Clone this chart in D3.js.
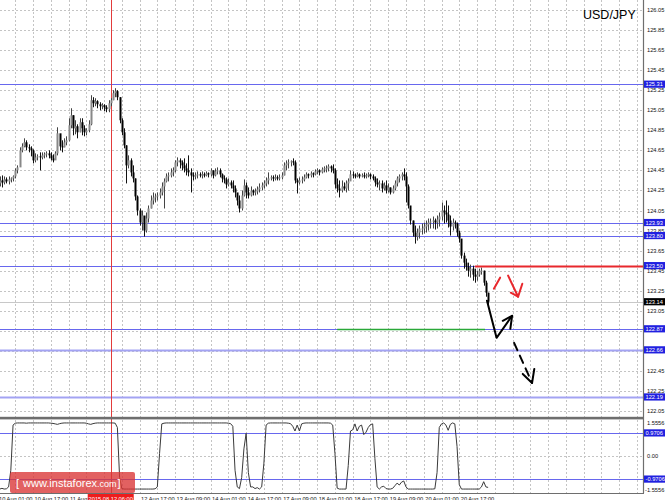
<!DOCTYPE html>
<html><head><meta charset="utf-8">
<script src="https://cdn.jsdelivr.net/npm/d3@7"></script>
<style>body{margin:0;background:#fff;}svg{display:block;font-family:"Liberation Sans",Arial,sans-serif;}</style>
</head><body><svg id="c" width="665" height="500"></svg>
<script>
// ---- data (hourly USD/JPY bars, index 0 = 10 Aug 01:00) ----
const highs=[124.37,124.39,124.40,124.39,124.38,124.39,124.38,124.40,124.47,124.50,
124.68,124.72,124.77,124.75,124.71,124.69,124.66,124.62,124.61,124.63,
124.63,124.63,124.64,124.65,124.63,124.61,124.64,124.88,124.80,124.75,
124.77,124.79,124.97,125.07,125.00,124.95,124.91,124.97,124.97,124.90,
124.87,124.95,125.20,125.18,125.17,125.15,125.13,125.12,125.11,125.10,
125.15,125.17,125.25,125.27,125.25,125.18,124.97,124.87,124.70,124.60,
124.57,124.50,124.37,124.20,124.07,124.05,123.97,124.03,124.10,124.20,
124.23,124.22,124.23,124.27,124.33,124.37,124.42,124.43,124.47,124.48,
124.55,124.58,124.57,124.55,124.57,124.52,124.60,124.47,124.43,124.43,
124.44,124.43,124.44,124.43,124.44,124.43,124.47,124.45,124.47,124.48,
124.47,124.42,124.40,124.38,124.37,124.35,124.35,124.30,124.22,124.20,
124.25,124.36,124.33,124.28,124.29,124.26,124.27,124.29,124.32,124.33,
124.35,124.38,124.43,124.40,124.40,124.41,124.40,124.41,124.43,124.53,
124.55,124.56,124.55,124.57,124.55,124.37,124.38,124.39,124.41,124.43,
124.42,124.44,124.43,124.46,124.47,124.46,124.48,124.49,124.50,124.51,
124.50,124.51,124.47,124.37,124.35,124.35,124.33,124.35,124.37,124.45,
124.44,124.42,124.43,124.42,124.42,124.43,124.42,124.43,124.42,124.41,
124.39,124.37,124.35,124.35,124.33,124.35,124.32,124.28,124.30,124.35,
124.39,124.41,124.43,124.47,124.43,124.31,124.09,123.95,123.90,123.87,
123.90,123.92,123.93,123.95,123.97,123.97,123.99,123.97,124.00,124.03,
124.13,124.10,124.15,124.10,124.00,123.97,123.95,123.93,123.85,123.75,
123.63,123.57,123.53,123.51,123.50,123.47,123.45,123.47,123.48,123.45,
123.35,123.23];
const lows=[124.29,124.29,124.28,124.31,124.32,124.31,124.33,124.34,124.37,124.42,
124.49,124.63,124.68,124.65,124.63,124.59,124.52,124.53,124.55,124.45,
124.56,124.57,124.58,124.57,124.55,124.53,124.57,124.60,124.65,124.63,
124.68,124.70,124.74,124.87,124.80,124.81,124.77,124.83,124.80,124.79,
124.80,124.83,124.90,125.08,125.09,125.07,125.05,125.06,125.04,125.03,
125.03,125.09,125.15,125.18,125.15,124.92,124.80,124.67,124.32,124.47,
124.39,124.33,124.15,124.00,123.90,123.85,123.79,123.83,123.93,124.07,
124.11,124.13,124.15,124.17,124.20,124.07,124.33,124.34,124.38,124.39,
124.43,124.49,124.47,124.45,124.43,124.40,124.39,124.23,124.35,124.36,
124.37,124.38,124.37,124.38,124.39,124.38,124.39,124.37,124.39,124.41,
124.38,124.33,124.32,124.27,124.29,124.27,124.23,124.18,124.10,124.03,
124.05,124.19,124.17,124.17,124.19,124.20,124.20,124.21,124.23,124.25,
124.27,124.29,124.31,124.35,124.34,124.35,124.35,124.35,124.36,124.40,
124.45,124.47,124.49,124.50,124.32,124.22,124.31,124.32,124.34,124.37,
124.37,124.38,124.38,124.40,124.41,124.40,124.42,124.43,124.43,124.44,
124.43,124.42,124.27,124.23,124.18,124.23,124.25,124.23,124.25,124.35,
124.37,124.37,124.38,124.37,124.38,124.37,124.37,124.38,124.36,124.35,
124.29,124.28,124.25,124.23,124.25,124.22,124.23,124.21,124.22,124.25,
124.29,124.33,124.35,124.35,124.13,124.07,123.91,123.79,123.72,123.75,
123.77,123.81,123.82,123.83,123.85,123.87,123.87,123.86,123.87,123.89,
123.95,123.92,123.93,123.88,123.80,123.85,123.87,123.79,123.73,123.57,
123.47,123.45,123.39,123.38,123.35,123.33,123.35,123.39,123.41,123.30,
123.19,123.11];
const closes=[124.32,124.35,124.33,124.36,124.34,124.36,124.37,124.39,124.45,124.48,
124.65,124.69,124.73,124.68,124.67,124.65,124.55,124.58,124.59,124.58,
124.60,124.61,124.62,124.60,124.57,124.55,124.62,124.82,124.69,124.68,
124.73,124.75,124.90,125.00,124.87,124.89,124.83,124.93,124.87,124.83,
124.85,124.91,125.15,125.12,125.14,125.11,125.09,125.10,125.08,125.06,
125.12,125.15,125.22,125.24,125.18,124.95,124.83,124.70,124.50,124.55,
124.43,124.37,124.19,124.05,123.93,124.00,123.85,123.97,124.07,124.15,
124.18,124.19,124.20,124.23,124.29,124.34,124.39,124.40,124.43,124.45,
124.53,124.55,124.53,124.50,124.47,124.45,124.43,124.40,124.39,124.40,
124.41,124.40,124.41,124.40,124.42,124.41,124.45,124.40,124.44,124.45,
124.41,124.37,124.36,124.31,124.33,124.30,124.27,124.23,124.15,124.07,
124.20,124.30,124.23,124.20,124.25,124.23,124.24,124.26,124.28,124.30,
124.32,124.35,124.37,124.38,124.37,124.38,124.37,124.38,124.40,124.50,
124.52,124.53,124.54,124.53,124.35,124.33,124.35,124.36,124.38,124.41,
124.40,124.42,124.41,124.44,124.45,124.43,124.46,124.47,124.47,124.49,
124.47,124.45,124.31,124.27,124.25,124.29,124.27,124.32,124.34,124.41,
124.40,124.39,124.41,124.39,124.40,124.39,124.40,124.41,124.39,124.37,
124.33,124.31,124.32,124.27,124.30,124.25,124.28,124.23,124.27,124.32,
124.37,124.39,124.41,124.39,124.29,124.10,123.95,123.83,123.79,123.83,
123.87,123.87,123.89,123.91,123.93,123.94,123.95,123.93,123.96,123.99,
124.05,124.03,124.01,123.95,123.89,123.93,123.92,123.83,123.77,123.60,
123.53,123.49,123.45,123.47,123.41,123.39,123.41,123.45,123.45,123.33,
123.23,123.14];
const oscillator=[-1.37,-1.39,-1.36,-1.39,-1.38,-1.30,-0.60,1.30,1.38,1.39,
1.39,1.39,1.39,1.38,1.39,1.39,1.39,1.39,1.39,1.39,
1.39,1.39,1.39,1.39,1.38,1.37,1.35,1.33,1.36,1.38,
1.39,1.39,1.39,1.39,1.39,1.39,1.39,1.39,1.39,1.39,
1.38,1.35,1.33,1.36,1.38,1.39,1.39,1.39,1.39,1.39,
1.39,1.39,1.39,1.38,1.20,-0.90,-1.37,-1.39,-1.39,-1.39,
-1.39,-1.39,-1.39,-1.39,-1.39,-1.39,-1.39,-1.39,-1.39,-1.39,
-1.39,-1.38,-1.30,0.10,1.35,1.38,1.39,1.39,1.39,1.39,
1.39,1.39,1.39,1.39,1.39,1.39,1.39,1.39,1.39,1.39,
1.39,1.39,1.39,1.39,1.39,1.39,1.39,1.39,1.39,1.39,
1.39,1.39,1.39,1.39,1.38,1.36,1.25,-0.60,-1.30,-1.37,
-0.90,0.30,0.95,-0.70,-1.30,-1.30,-1.37,-1.33,-1.39,-1.30,
-0.30,1.30,1.38,1.39,1.39,1.39,1.39,1.39,1.39,1.39,
1.39,1.38,1.36,1.25,1.05,1.30,1.05,1.35,1.38,1.39,
1.39,1.39,1.39,1.39,1.39,1.39,1.39,1.39,1.39,1.39,
1.38,1.30,0.10,-1.35,-1.39,-1.39,-1.39,-1.39,-0.40,1.05,
1.10,1.35,1.05,1.25,1.30,0.90,1.00,1.20,1.32,1.35,
-0.10,-1.30,-1.39,-1.30,-1.27,-1.37,-1.39,-1.39,-1.36,-1.25,
-1.14,-1.22,-1.10,-1.05,-1.30,-1.39,-1.39,-1.39,-1.39,-1.39,
-1.39,-1.39,-1.39,-1.39,-1.39,-1.39,-1.39,-1.38,-0.70,1.20,
1.35,1.39,1.30,1.08,1.33,1.39,1.35,0.40,-1.20,-1.39,
-1.39,-1.39,-1.39,-1.39,-1.39,-1.39,-1.39,-1.39,-1.30,-1.08,
-1.30,-1.32];

const priceTicks=[126.05,125.85,125.65,125.45,125.25,125.05,124.85,124.65,124.45,124.25,124.05,123.85,123.65,123.45,123.25,123.05,122.85,122.65,122.45,122.25,122.05];
const timeLabels=["10 Aug 01:00","10 Aug 17:00","11 Aug 09:00","12 Aug 17:00","13 Aug 09:00","14 Aug 01:00","14 Aug 17:00","17 Aug 09:00","18 Aug 01:00","18 Aug 17:00","19 Aug 09:00","20 Aug 01:00","20 Aug 17:00"];
const timeLabelIndex=[0,16,32,64,80,96,112,128,144,160,176,192,208];
const blueLevels=[125.31,123.93,123.80,123.50,122.87,122.66,122.19];
const blueLevelsThick=[122.66,122.19];
const lastPrice=123.14;
const redLevel={price:123.50,from:215};
const greenLevel={price:122.87,from:153,to:219.6};
const crosshair={index:51,label:"2015.08.12 06:00"};
const oscTicks=[1.5556,0,-1.5556];
const oscLevels=[0.9706,-0.9706];
const oscLevelLabels=["0.9706","-0.9706"];
// hand-drawn forecast arrows, in (bar index, price)
const blackArrow=[[220.5,123.15],[224.8,122.78],[231.8,123.00]];
const blackArrowHead=[[227.6,122.95],[231.8,123.00],[231.0,122.87]];
const blackDashed=[[232.7,122.73],[240.8,122.33]];
const blackDashedHead=[[236.6,122.42],[240.8,122.33],[241.8,122.47]];
const redStroke1=[[223.6,123.27],[226.4,123.38]];
const redStroke2=[[230.0,123.40],[234.5,123.19]];
const redHead=[[231.2,123.23],[234.5,123.19],[236.4,123.32]];

// ---- layout ----
const PR=643;
const svg=d3.select("#c");
const x=d3.scaleLinear().domain([0,100]).range([-2.5,219.5]);
const y=d3.scaleLinear().domain([122.05,126.05]).range([411,10]);
const yo=d3.scaleLinear().domain([-1.5556,1.5556]).range([493,419]);
const fs=5.7;
const px=v=>Math.round(v)+0.5;

// grid
const g=svg.append("g");
const vIdx=d3.range(8,300,8).filter(i=>x(i)<PR-1);
g.selectAll(".vg").data(vIdx).enter().append("line")
 .attr("x1",d=>px(x(d))).attr("x2",d=>px(x(d))).attr("y1",0).attr("y2",493)
 .attr("stroke","#c4c4c4").attr("stroke-dasharray","2,2");
g.selectAll(".hg").data(priceTicks).enter().append("line")
 .attr("x1",0).attr("x2",PR).attr("y1",d=>px(y(d))).attr("y2",d=>px(y(d)))
 .attr("stroke","#c4c4c4").attr("stroke-dasharray","2,2");
g.append("line").attr("x1",0).attr("x2",PR).attr("y1",px(yo(0))).attr("y2",px(yo(0)))
 .attr("stroke","#c4c4c4").attr("stroke-dasharray","2,2");

// levels
svg.append("line").attr("x1",0).attr("x2",PR).attr("y1",px(y(lastPrice))).attr("y2",px(y(lastPrice))).attr("stroke","#c8c8c8");
svg.selectAll(".bl").data(blueLevels).enter().append("line")
 .attr("x1",0).attr("x2",PR).attr("y1",d=>px(y(d))).attr("y2",d=>px(y(d)))
 .attr("stroke",d=>blueLevelsThick.includes(d)?"#a3a3f3":"#6767ee")
 .attr("stroke-width",d=>blueLevelsThick.includes(d)?2.2:1.2);
svg.append("line").attr("x1",x(redLevel.from)).attr("x2",PR).attr("y1",px(y(redLevel.price))).attr("y2",px(y(redLevel.price)))
 .attr("stroke","#e8282d").attr("stroke-width",2);
svg.append("line").attr("x1",x(greenLevel.from)).attr("x2",x(greenLevel.to)).attr("y1",px(y(greenLevel.price))).attr("y2",px(y(greenLevel.price)))
 .attr("stroke","#2aa838").attr("stroke-width",1.6);

// crosshair line
svg.append("line").attr("x1",px(x(crosshair.index))).attr("x2",px(x(crosshair.index))).attr("y1",0).attr("y2",493)
 .attr("stroke","#e23b3b").attr("stroke-width",1);

// candles
const bars=closes.map((c,i)=>({i,h:highs[i],l:lows[i],c,o:i===0?closes[0]:closes[i-1]}));
const cg=svg.append("g");
cg.selectAll(".w").data(bars).enter().append("line")
 .attr("x1",d=>px(x(d.i))).attr("x2",d=>px(x(d.i)))
 .attr("y1",d=>y(d.h)).attr("y2",d=>y(d.l))
 .attr("stroke",d=>d.c<d.o?"#111":"#444").attr("stroke-width",1);
cg.selectAll(".b").data(bars).enter().append("rect")
 .attr("x",d=>px(x(d.i))-1).attr("width",2)
 .attr("y",d=>Math.min(y(d.o),y(d.c))).attr("height",d=>Math.max(1,Math.abs(y(d.o)-y(d.c))))
 .attr("fill",d=>d.c<d.o?"#000":"#888");

// forecast arrows
const ln=d3.line().x(d=>x(d[0])).y(d=>y(d[1]));
const ag=svg.append("g").attr("fill","none").attr("stroke-linecap","round").attr("stroke-linejoin","round");
ag.append("path").attr("d",ln(blackArrow)).attr("stroke","#000").attr("stroke-width",2);
ag.append("path").attr("d",ln(blackArrowHead)).attr("stroke","#000").attr("stroke-width",2);
ag.append("path").attr("d",ln(blackDashed)).attr("stroke","#000").attr("stroke-width",2).attr("stroke-dasharray","8,6");
ag.append("path").attr("d",ln(blackDashedHead)).attr("stroke","#000").attr("stroke-width",2);
ag.append("path").attr("d",ln(redStroke1)).attr("stroke","#e8282d").attr("stroke-width",2);
ag.append("path").attr("d",ln(redStroke2)).attr("stroke","#e8282d").attr("stroke-width",2);
ag.append("path").attr("d",ln(redHead)).attr("stroke","#e8282d").attr("stroke-width",2);

// indicator
svg.selectAll(".ol").data(oscLevels).enter().append("line")
 .attr("x1",0).attr("x2",PR).attr("y1",d=>px(yo(d))).attr("y2",d=>px(yo(d)))
 .attr("stroke","#6767ee").attr("stroke-width",1.2);
svg.append("path").datum(oscillator)
 .attr("d",d3.line().x((d,i)=>x(i)).y(d=>yo(d)))
 .attr("fill","none").attr("stroke","#3a3a3a").attr("stroke-width",1);

// frames
svg.append("rect").attr("x",0).attr("y",416.8).attr("width",PR).attr("height",2.6).attr("fill","#6e6e6e");
svg.append("line").attr("x1",PR+0.5).attr("x2",PR+0.5).attr("y1",0).attr("y2",493).attr("stroke","#6e6e6e").attr("stroke-width",1.2);
svg.append("line").attr("x1",0).attr("x2",PR+1).attr("y1",493.5).attr("y2",493.5).attr("stroke","#6e6e6e").attr("stroke-width",1.2);

// price axis labels (those hidden behind a level tag are skipped, as in the terminal)
const taggedY=blueLevels.concat([lastPrice]).map(v=>y(v));
const visibleTicks=priceTicks.filter(t=>taggedY.every(ty=>Math.abs(ty-y(t))>3.5));
svg.selectAll(".pt").data(visibleTicks).enter().append("text")
 .attr("x",647).attr("y",d=>y(d)+2).attr("font-size",fs).attr("fill","#111").text(d=>d.toFixed(2));
svg.selectAll(".ot").data(oscTicks).enter().append("text")
 .attr("x",d=>d<0?645:647).attr("y",d=>d>0?yo(d)+6:(d<0?yo(d)-1:yo(d)+2)).attr("font-size",fs).attr("fill","#111")
 .text(d=>d===0?"0.00":d.toFixed(4));

function tag(yv,txt,bg){
  svg.append("rect").attr("x",644).attr("y",yv-3.6).attr("width",21).attr("height",7.2).attr("fill",bg);
  svg.append("text").attr("x",645.5).attr("y",yv+2).attr("font-size",fs).attr("fill","#fff").text(txt);
}
blueLevels.forEach(v=>tag(y(v),v.toFixed(2),"#2020e0"));
tag(y(lastPrice),lastPrice.toFixed(2),"#000");
oscLevels.forEach((v,k)=>tag(yo(v),oscLevelLabels[k],"#2020e0"));

// time labels
svg.selectAll(".tl").data(timeLabels).enter().append("text")
 .attr("x",(d,k)=>x(timeLabelIndex[k])+1.5).attr("y",501).attr("font-size",fs).attr("fill","#111").text(d=>d);
const cx=x(crosshair.index);
svg.append("rect").attr("x",cx-23).attr("y",494).attr("width",46).attr("height",7).attr("fill","#ee1c1c");
svg.append("text").attr("x",cx).attr("y",500.5).attr("text-anchor","middle").attr("font-size",fs).attr("fill","#fff").text(crosshair.label);

// title
svg.append("text").attr("x",583).attr("y",19).attr("font-size",12.5).attr("fill","#000").text("USD/JPY");

// logo
svg.append("rect").attr("x",10).attr("y",472).attr("width",125).attr("height",21).attr("rx",2).attr("fill","rgba(218,52,52,0.78)");
const lt=svg.append("text").attr("x",16).attr("y",487).attr("fill","#fff").attr("font-size",11);
lt.append("tspan").text("[");
lt.append("tspan").attr("dx",4).text("www.instaforex");
lt.append("tspan").attr("font-size",9).text(".com");
lt.append("tspan").attr("dx",1).text("]");
</script></body></html>
